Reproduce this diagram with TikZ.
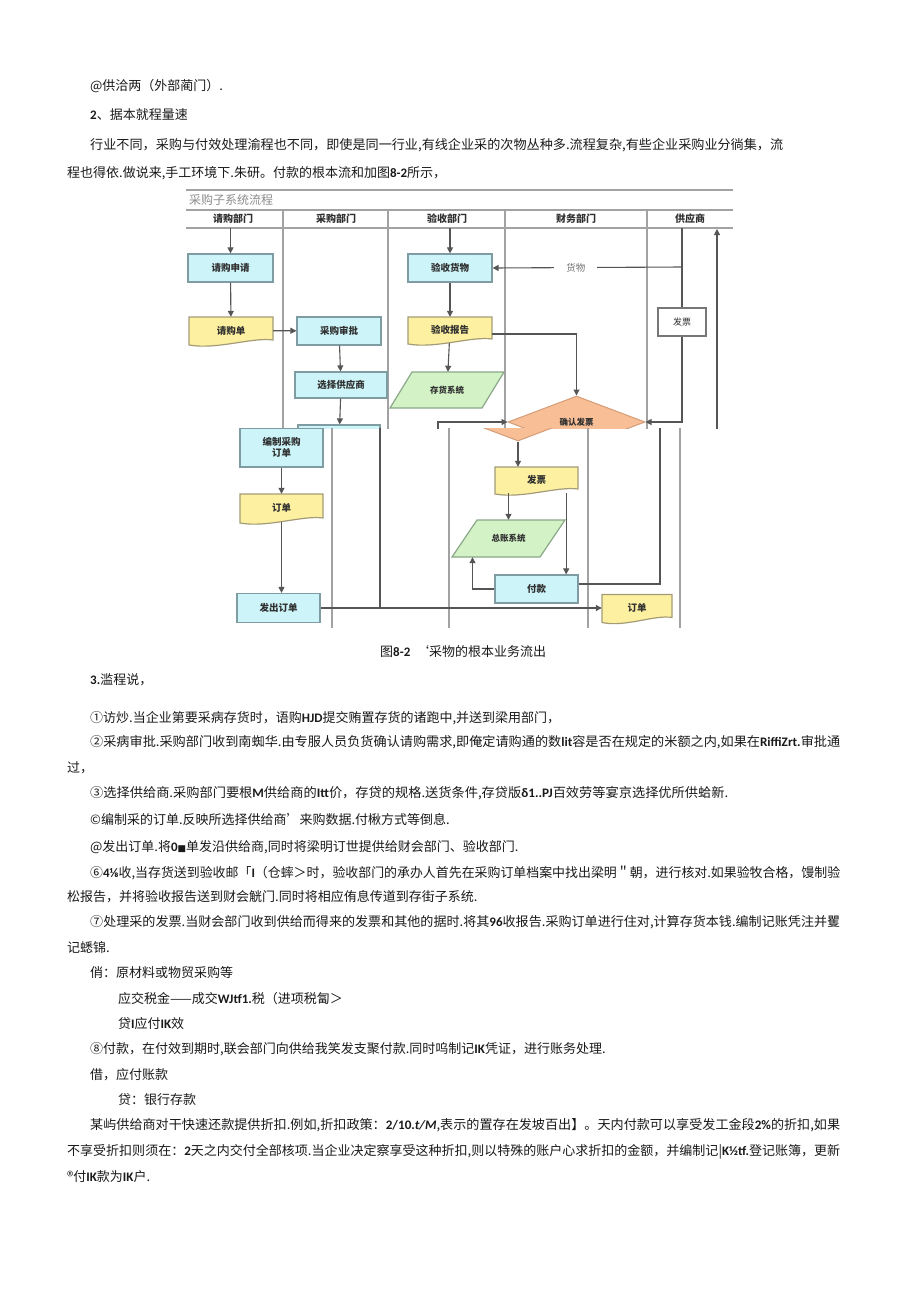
\documentclass[tikz,border=0pt]{standalone}
\usepackage{fontspec}
\usepackage{graphicx}
\setmainfont{Noto Sans CJK SC}
\newfontfamily\carl{Carlito}
\newfontfamily\djv{DejaVu Sans}
\usetikzlibrary{shapes.geometric,arrows.meta,calc}
\definecolor{linec}{HTML}{555555}
\definecolor{lanec}{HTML}{A2A2A2}
\definecolor{cyanf}{HTML}{CDF4F8}
\definecolor{cyanb}{HTML}{7F9CA3}
\definecolor{yelf}{HTML}{FDF0A0}
\definecolor{yelb}{HTML}{A49C78}
\definecolor{grnf}{HTML}{D3F2C6}
\definecolor{grnb}{HTML}{8AA888}
\definecolor{orgf}{HTML}{F8BE96}
\definecolor{orgb}{HTML}{D49C78}
\definecolor{textc}{HTML}{1A1A1A}
\definecolor{dtext}{HTML}{303030}
\newsavebox\fitbox
\newlength\natw
\newcommand\fitto[2]{\sbox\fitbox{#2}\natw=\wd\fitbox\pgfmathsetmacro\fsc{(#1)/\natw}\scalebox{\fsc}[1]{\usebox\fitbox}}
\newcommand\bt[1]{{\carl\bfseries #1}}
\newcommand\bodyfont{\fontsize{13}{15}\selectfont}
\newcommand\dfont{\fontsize{9.5}{11}\selectfont\bfseries}
\newcommand\docshape[4]{%
 \path[docst] ({#1-#3/2},{#2-#4/2}) -- ({#1+#3/2},{#2-#4/2}) -- ({#1+#3/2},{#2+#4/2-4})
   .. controls ({#1+#3/4},{#2+#4/2-7}) and ({#1-#3/6},{#2+#4/2+6}) .. ({#1-#3/2},{#2+#4/2+1}) -- cycle;}
\newcommand\parashape[5]{%
 \path[parast] ({#1-#3/2+#5/2},{#2-#4/2}) -- ({#1+#3/2+#5/2},{#2-#4/2}) -- ({#1+#3/2-#5/2},{#2+#4/2}) -- ({#1-#3/2-#5/2},{#2+#4/2}) -- cycle;}
\begin{document}
\begin{tikzpicture}[x=1pt,y=-1pt,
  lane/.style={draw=lanec, line width=1.5pt},
  proc/.style={draw=cyanb, fill=cyanf, line width=1.2pt, inner sep=1pt, font=\dfont, text=dtext, align=center},
  lbl/.style={inner sep=0pt, font=\dfont, text=dtext, align=center},
  docst/.style={draw=yelb, fill=yelf, line width=1.2pt},
  parast/.style={draw=grnb, fill=grnf, line width=1.2pt},
  arr/.style={draw=linec, line width=1.1pt, -{Triangle[length=6pt,width=6pt]}},
  ln/.style={draw=linec, line width=1.1pt},
  txt/.style={anchor=base west, inner sep=0pt, font=\bodyfont, text=textc},
  lanelbl/.style={inner sep=0pt, font=\fontsize{10}{12}\selectfont\bfseries, text=dtext}
]
\fill[white] (0,0) rectangle (920,1301);
\useasboundingbox (0,0) rectangle (920,1301);

% ---------- body text ----------
\node[txt] (t1) at (90,90) {@供洽两（外部蔺门）.};
\node[txt] (t2) at (90,119.5) {\bt{2}、据本就程量速};
\node[txt] (t3) at (90,149.5) {\fitto{693}{行业不同，采购与付效处理渝程也不同，即使是同一行业,有线企业采的次物丛种多.流程复杂,有些企业采购业分徜集，流}};
\node[txt] (t4) at (67,177.5) {程也得依.做说来,手工环境下.朱研。付款的根本流和加图\bt{8-2}所示，};
\node[txt] (cap) at (380,656.5) {图\bt{8-2}\ \ ‘采物的根本业务流出};
\node[txt] (t5) at (90,684.5) {\bt{3.}滥程说，};
\node[txt] (t6) at (90,722.5) {①访炒.当企业第要采病存货时，语购\bt{HJD}提交贿置存货的诸跑中,并送到梁用部门，};
\node[txt] (t7) at (90,746.5) {\fitto{750}{②采病审批.采购部门收到南蜘华.由专服人员负货确认请购需求,即俺定请购通的数\bt{lit}容是否在规定的米额之内,如果在\bt{RiffiZrt.}审批通}};
\node[txt] (t8) at (67,772.5) {过，};
\node[txt] (t9) at (90,797.5) {\fitto{638}{③选择供给商.采购部门要根\bt{M}供给商的\bt{Itt}价，存贷的规格.送货条件,存贷版\bt{δ1..PJ}百效劳等宴京选择优所供蛤新.}};
\node[txt] (t10) at (90,824.5) {©编制采的订单.反映所选择供给商'来购数据.付楸方式等倒息.};
\node[txt] (t11) at (90,851.5) {@发出订单.将\bt{0}{\djv\small ■}单发沿供给商,同时将梁明订世提供给财会部门、验收部门.};
\node[txt] (t12) at (90,877.5) {\fitto{750}{⑥\bt{4⅛}收,当存货送到验收邮「\bt{I}（仓蟀＞时，验收部门的承办人首先在采购订单档案中找出梁明＂朝，进行核对.如果验牧合格，馒制验}};
\node[txt] (t13) at (67,901.5) {松报告，并将验收报告送到财会觥门.同时将相应侑息传道到存街子系统.};
\node[txt] (t14) at (90,926.5) {\fitto{750}{⑦处理采的发票.当财会部门收到供给而得来的发票和其他的据时.将其\bt{96}收报告.采购订单进行住对,计算存货本钱.编制记账凭注并矍}};
\node[txt] (t15) at (67,952.5) {记蟋锦.};
\node[txt] (t16) at (90,977.5) {俏：原材料或物贸采购等};
\node[txt] (t17) at (118,1003.5) {应交税金——成交\bt{WJtf1.}税（进项税匐＞};
\node[txt] (t18) at (118,1028.5) {贷\bt{I}应付\bt{IK}效};
\node[txt] (t19) at (90,1053.5) {⑧付款，在付效到期时,联会部门向供给我笑发支聚付款.同时呜制记\bt{IK}凭证，进行账务处理.};
\node[txt] (t20) at (90,1079.5) {借，应付账款};
\node[txt] (t21) at (118,1104.5) {贷：银行存款};
\node[txt] (t22) at (90,1129.5) {\fitto{750}{某屿供给商对干快速还款提供折扣.例如,折扣政策：\bt{2/10.}{\carl\bfseries\itshape t/M},表示的置存在发坡百出】。天内付款可以享受发工金段\bt{2\%}的折扣,如果}};
\node[txt] (t23) at (67,1155.5) {\fitto{773}{不享受折扣则须在：\bt{2}天之内交付全部核项.当企业决定察享受这种折扣,则以特殊的账户心求折扣的金额，并编制记|\bt{K½tf.}登记账簿，更新}};
\node[txt] (t24) at (67,1181.5) {®付\bt{IK}款为\bt{IK}户.};

% ---------- diagram, upper piece ----------
\begin{scope}
\clip (180,186) rectangle (740,428);
\draw[lane] (186,190) -- (733,190);
\draw[lane] (186,210) -- (733,210);
\draw[lane] (186,228) -- (733,228);
\foreach \xx in {283,388,505,647} \draw[lane] (\xx,210) -- (\xx,440);
\node[anchor=west, inner sep=0pt, font=\fontsize{12}{14}\selectfont, text=black!45] (title) at (189,200) {采购子系统流程};
\node[lanelbl] (L1) at (233,219) {请购部门};
\node[lanelbl] (L2) at (336,219) {采购部门};
\node[lanelbl] (L3) at (447,219) {验收部门};
\node[lanelbl] (L4) at (576,219) {财务部门};
\node[lanelbl] (L5) at (690,219) {供应商};

\node[proc, minimum width=85pt, minimum height=28pt] (qgsq) at (230.5,268) {请购申请};
\docshape{231}{330.5}{84}{27}
\node[lbl, minimum width=84pt, minimum height=27pt] (qgd) at (231,330.5) {请购单};
\node[proc, minimum width=84pt, minimum height=28pt] (cgsp) at (339,331) {采购审批};
\node[proc, minimum width=92pt, minimum height=26pt] (xzgys) at (341,385) {选择供应商};
\node[proc, minimum width=82pt, minimum height=40pt] (bzU) at (339,445) {};
\node[proc, minimum width=84pt, minimum height=28pt] (ysgw) at (450,268) {验收货物};
\docshape{450}{330}{84}{26}
\node[lbl, minimum width=84pt, minimum height=26pt] (ysbg) at (450,330) {验收报告};
\parashape{447}{390}{92}{36}{22}
\node[lbl, minimum width=70pt, minimum height=36pt, font=\fontsize{8.5}{10}\selectfont\bfseries] (chxt) at (447,390) {存货系统};
\node[diamond, draw=orgb, fill=orgf, line width=1pt, inner sep=0pt, minimum width=137pt, minimum height=52pt, font=\fontsize{8.5}{10}\selectfont\bfseries, text=dtext] (qrfp) at (576.5,422) {确认发票};
\node[draw=linec!80, fill=white, line width=1.1pt, minimum width=48pt, minimum height=28pt, inner sep=0pt, font=\fontsize{9}{11}\selectfont, text=dtext] (gfp) at (682,322) {发票};

\coordinate (s1) at (230.5,228);
\coordinate (s3) at (450,228);
\coordinate (g0) at (682,228);
\coordinate (g1) at (682,267);
\coordinate (j2) at (438,440);
\coordinate (r0) at (717,440);
\coordinate (r1) at (717,229);
\draw[arr] (s1) -- (qgsq);
\draw[arr] (qgsq) -- (qgd);
\draw[arr] (qgd) -- (cgsp);
\draw[arr] (cgsp) -- (xzgys);
\draw[arr] (xzgys) -- (bzU);
\draw[arr] (s3) -- (ysgw);
\draw[arr] (ysgw) -- (ysbg);
\draw[arr] (ysbg) -- (chxt);
\draw[arr] ([yshift=-4pt]ysbg.east) -| (qrfp.north);
\draw[ln] (g0) -- (gfp);
\draw[arr] (gfp) |- (qrfp.east);
\draw[arr] (g1) -- node[pos=0.56, fill=white, inner xsep=12pt, inner ysep=1pt, font=\fontsize{9.5}{11}\selectfont, text=black!55] (hw) {货物} (ysgw.east);
\draw[arr] (j2) |- (qrfp.west);
\draw[arr] (r0) -- (r1);
\end{scope}

% ---------- diagram, lower piece ----------
\begin{scope}
\clip (180,428) rectangle (740,640);
\foreach \xx in {332,449,588,680} \draw[lane] (\xx,420) -- (\xx,628);
\node[diamond, draw=orgb, fill=orgf, line width=1pt, inner sep=0pt, minimum width=137pt, minimum height=52pt] (qrfpB) at (518,415) {};
\node[proc, minimum width=83pt, minimum height=39pt] (bz) at (281.5,447.5) {编制采购\\订单};
\docshape{281.5}{508}{83}{28}
\node[lbl, minimum width=83pt, minimum height=28pt] (dd) at (281.5,508) {订单};
\node[proc, minimum width=83pt, minimum height=29pt] (fcdd) at (278.5,608) {发出订单};
\docshape{637}{608}{70}{27}
\node[lbl, minimum width=70pt, minimum height=27pt] (gdd) at (637,608) {订单};
\docshape{536.5}{480}{83}{26}
\node[lbl, minimum width=83pt, minimum height=26pt] (fp) at (536.5,480) {发票};
\parashape{508.5}{538.5}{88}{37}{25}
\node[lbl, minimum width=70pt, minimum height=37pt, font=\fontsize{8.5}{10}\selectfont\bfseries] (zz) at (508.5,538.5) {总账系统};
\node[proc, minimum width=83pt, minimum height=28pt] (fk) at (536.5,589) {付款};

\coordinate (j1) at (380,608);
\coordinate (j1t) at (380,420);
\coordinate (r2) at (660,420);
\coordinate (fpo) at ([xshift=-12pt]fp.south east);
\draw[arr] (bz) -- (dd);
\draw[arr] (dd) -- (dd |- fcdd.north);
\draw[arr] (fcdd) -- (gdd);
\draw[ln] (j1) -- (j1t);
\draw[arr] (qrfpB.south) -- (qrfpB.south |- fp.north);
\draw[arr] (fp.south -| zz.north) -- (zz.north);
\draw[arr] (fpo) -- (fpo |- fk.north);
\draw[arr] (fk.west) -| ([xshift=-36pt]zz.south);
\draw[ln] ([yshift=5pt]fk.east) -| (r2);
\end{scope}
\end{tikzpicture}
\end{document}
